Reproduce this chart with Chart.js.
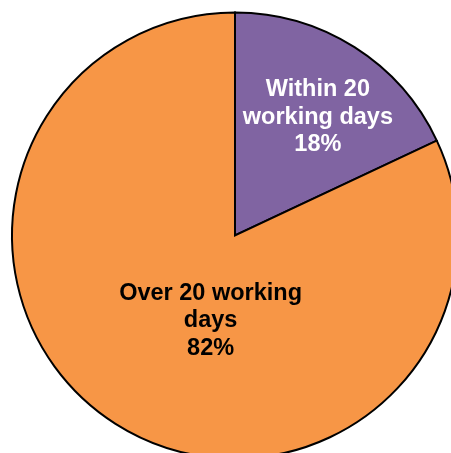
<!DOCTYPE html>
<html>
<head>
<meta charset="utf-8">
<script src="https://cdn.jsdelivr.net/npm/chart.js@4.4.0/dist/chart.umd.min.js"></script>
<style>
html,body{margin:0;padding:0;background:#fff;overflow:hidden;width:451px;height:453px;}
#wrap{position:absolute;left:0;top:0;width:470px;height:471px;}
</style>
</head>
<body>
<div id="wrap"><canvas id="c"></canvas></div>
<script>
const categories = ["Within 20 working days", "Over 20 working days"];
const labelLines = [["Within 20", "working days"], ["Over 20 working", "days"]];
const values = [18, 82];
const colors = ["#8064A2", "#F79646"];
const textColors = ["#FFFFFF", "#000000"];

// label placement relative to the arc: angle (deg from top, clockwise) and fraction of radius
const labelPlace = [{angle: 35, frac: 0.648}, {angle: 196, frac: 0.397}];

const labelPlugin = {
  id: 'sliceLabels',
  afterDatasetsDraw(chart) {
    const ctx = chart.ctx;
    const meta = chart.getDatasetMeta(0);
    const total = values.reduce((a, b) => a + b, 0);
    meta.data.forEach((arc, i) => {
      const p = labelPlace[i];
      const a = (p.angle - 90) * Math.PI / 180;
      const r = arc.outerRadius * p.frac;
      const cx = arc.x + Math.cos(a) * r;
      const cy = arc.y + Math.sin(a) * r;
      const lines = labelLines[i].concat([Math.round(values[i] / total * 100) + '%']);
      ctx.save();
      ctx.font = 'bold 23.5px "Liberation Sans", Arial, sans-serif';
      ctx.fillStyle = textColors[i];
      ctx.textAlign = 'center';
      ctx.textBaseline = 'middle';
      const lh = 27.5;
      const start = cy - lh * (lines.length - 1) / 2;
      lines.forEach((t, k) => ctx.fillText(t, cx, start + k * lh));
      ctx.restore();
    });
  }
};

new Chart(document.getElementById('c'), {
  type: 'pie',
  data: {
    labels: categories,
    datasets: [{
      data: values,
      backgroundColor: colors,
      borderColor: '#000000',
      borderWidth: 2,
      borderJoinStyle: 'miter',
      hoverOffset: 0
    }]
  },
  options: {
    responsive: true,
    maintainAspectRatio: false,
    animation: false,
    radius: 223,
    layout: {padding: 0},
    events: [],
    plugins: {legend: {display: false}, tooltip: {enabled: false}}
  },
  plugins: [labelPlugin]
});
</script>
</body>
</html>
